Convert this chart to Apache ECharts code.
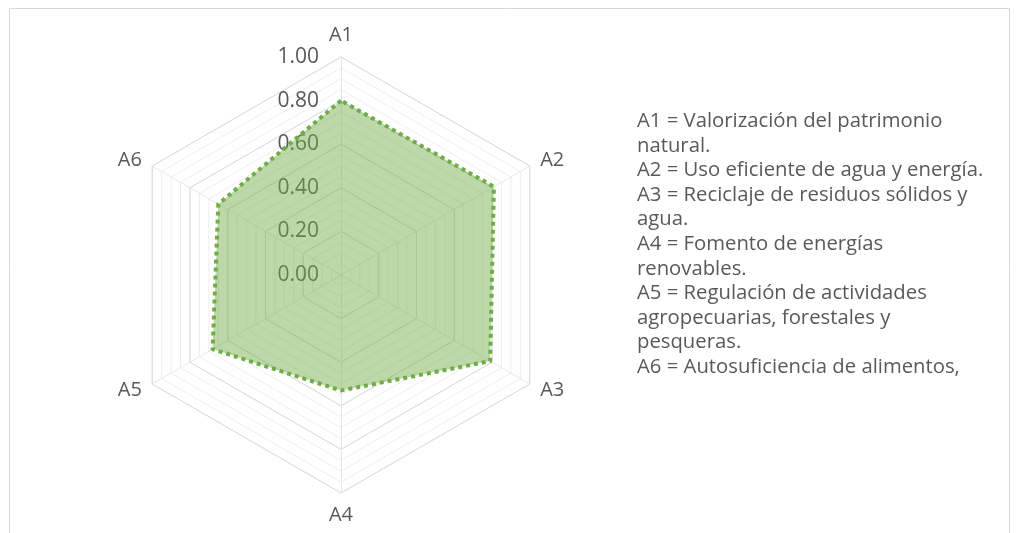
<!DOCTYPE html>
<html><head><meta charset="utf-8">
<script src="https://cdn.jsdelivr.net/npm/echarts@6/dist/echarts.min.js"></script>
<style>html,body{margin:0;padding:0;background:#fff}#c{width:1018px;height:533px}</style>
</head><body><div id="c"></div>
<script>
const categories = ['A1','A2','A3','A4','A5','A6'];
const values = [0.80, 0.81, 0.79, 0.53, 0.68, 0.65];
const tickLabels = ['0.00','0.20','0.40','0.60','0.80','1.00'];
const legendLines = [
  'A1 = Valorización del patrimonio',
  'natural.',
  'A2 = Uso eficiente de agua y energía.',
  'A3 = Reciclaje de residuos sólidos y',
  'agua.',
  'A4 = Fomento de energías',
  'renovables.',
  'A5 = Regulación de actividades',
  'agropecuarias, forestales y',
  'pesqueras.',
  'A6 = Autosuficiencia de alimentos,'
];
// ECharts radar runs counter-clockwise; reorder so the axes run clockwise as in the reference
const order = [0,5,4,3,2,1];
const cats = order.map(i => categories[i]);
const vals = order.map(i => values[i]);

const chart = echarts.init(document.getElementById('c'));
const font = "'Open Sans', sans-serif";
chart.setOption({
  animation: false,
  graphic: [
    {type:'rect', shape:{x:9.5,y:8.5,width:1000,height:540}, style:{fill:'none', stroke:'#d9d9d9', lineWidth:1}},
    {type:'text', left:637, top:109, style:{text: legendLines.join('\n'), font: "20.3px 'Open Sans', sans-serif", fill:'#595959', lineHeight:24.6}}
  ],
  polar: {center:[341,275], radius:218},
  angleAxis: {show:false, startAngle:90, min:0, max:360},
  radiusAxis: {
    min:0, max:1, interval:0.2,
    axisLine:{show:false}, axisTick:{show:false}, splitLine:{show:false},
    axisLabel:{show:true, color:'#595959', fontSize:21, fontFamily:font, margin:22,
      formatter: v => tickLabels[Math.round(v/0.2)]}
  },
  radar: [
    {
      center:[341,275], radius:218, startAngle:90, shape:'polygon', splitNumber:20,
      indicator: cats.map(n => ({name:'', max:1, min:0})),
      axisName:{show:false},
      axisLine:{show:false}, axisTick:{show:false}, axisLabel:{show:false},
      splitLine:{lineStyle:{color:'#eeeeee', width:1}},
      splitArea:{show:false}
    },
    {
      center:[341,275], radius:218, startAngle:90, shape:'polygon', splitNumber:5,
      indicator: cats.map(n => ({name:n, max:1, min:0})),
      nameGap:12,
      axisName:{color:'#595959', fontSize:20, fontFamily:font},
      axisLine:{show:true, lineStyle:{color:'#e6e6e6'}},
      axisTick:{show:false},
      axisLabel:{show:false},
      splitLine:{lineStyle:{color:'#d9d9d9', width:1}},
      splitArea:{show:false}
    }
  ],
  series: [{
    type:'radar', radarIndex:1, symbol:'none', z:1,
    lineStyle:{color:'#70ad47', width:4, type:[4,4]},
    areaStyle:{color:'#70ad47', opacity:0.47},
    data:[{value: vals}]
  }]
});
</script></body></html>
